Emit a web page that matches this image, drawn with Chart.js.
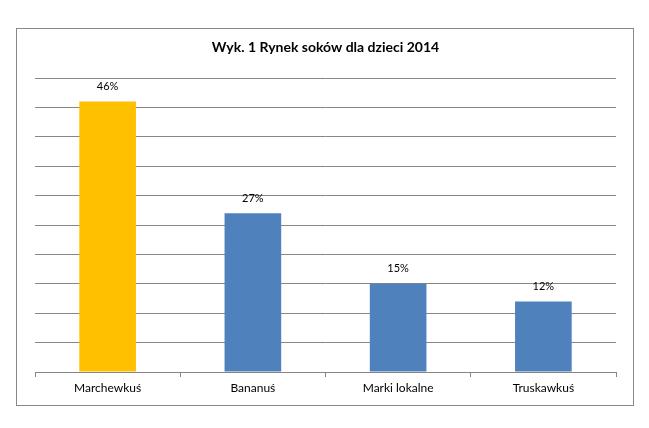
<!DOCTYPE html>
<html>
<head>
<meta charset="utf-8">
<script src="https://cdn.jsdelivr.net/npm/chart.js@4"></script>
<style>
html,body{margin:0;padding:0;background:#fff;}
#wrap{position:absolute;left:0;top:0;width:649px;height:428px;}
</style>
</head>
<body>
<div id="wrap"><canvas id="c" width="649" height="428"></canvas></div>
<script>
const categories = ["Marchewkuś", "Bananuś", "Marki lokalne", "Truskawkuś"];
const shares = [46, 27, 15, 12];
const barColors = ["#FFC000", "#4F81BD", "#4F81BD", "#4F81BD"];
const titleText = "Wyk. 1 Rynek soków dla dzieci 2014";
const FONT = "Lato, 'Liberation Sans', sans-serif";

const frame = {
  id: 'frame',
  beforeDraw(chart) {
    const ctx = chart.ctx;
    ctx.save();
    ctx.fillStyle = '#fff';
    ctx.fillRect(0, 0, chart.width, chart.height);
    ctx.strokeStyle = '#888888';
    ctx.lineWidth = 1;
    ctx.strokeRect(16.5, 28.5, 617, 377);
    ctx.restore();
  }
};

const valueLabels = {
  id: 'valueLabels',
  afterDatasetsDraw(chart) {
    const ctx = chart.ctx;
    const meta = chart.getDatasetMeta(0);
    ctx.save();
    ctx.font = "11px " + FONT;
    ctx.fillStyle = '#000';
    ctx.textAlign = 'center';
    ctx.textBaseline = 'middle';
    meta.data.forEach((bar, i) => {
      ctx.fillText(shares[i] + '%', bar.x, bar.y - 15);
    });
    ctx.restore();
  }
};

new Chart(document.getElementById('c'), {
  type: 'bar',
  data: {
    labels: categories,
    datasets: [{
      data: shares,
      backgroundColor: barColors,
      borderWidth: 0,
      categoryPercentage: 1,
      barPercentage: 0.39
    }]
  },
  options: {
    responsive: false,
    animation: false,
    devicePixelRatio: 1,
    layout: { padding: { left: 35, right: 33, top: 36, bottom: 30 } },
    plugins: {
      legend: { display: false },
      tooltip: { enabled: false },
      title: {
        display: true,
        text: titleText,
        color: '#000',
        font: { family: FONT, size: 14, weight: 'bold', lineHeight: 1.2 },
        padding: { top: 3, bottom: 22.2 }
      }
    },
    scales: {
      x: {
        grid: { display: true, drawOnChartArea: false, drawTicks: true, tickLength: 5, color: '#868686', offset: true },
        border: { display: true, color: '#868686', width: 1 },
        ticks: { color: '#000', padding: 4, font: { family: FONT, size: 12 } },
        afterFit(scale) { scale.height = 26; }
      },
      y: {
        min: 0, max: 50,
        ticks: { display: false, stepSize: 5 },
        grid: { color: '#868686', drawTicks: false, lineWidth: 1 },
        border: { display: false },
        afterFit(scale) { scale.width = 0; }
      }
    }
  },
  plugins: [frame, valueLabels]
});
</script>
</body>
</html>
